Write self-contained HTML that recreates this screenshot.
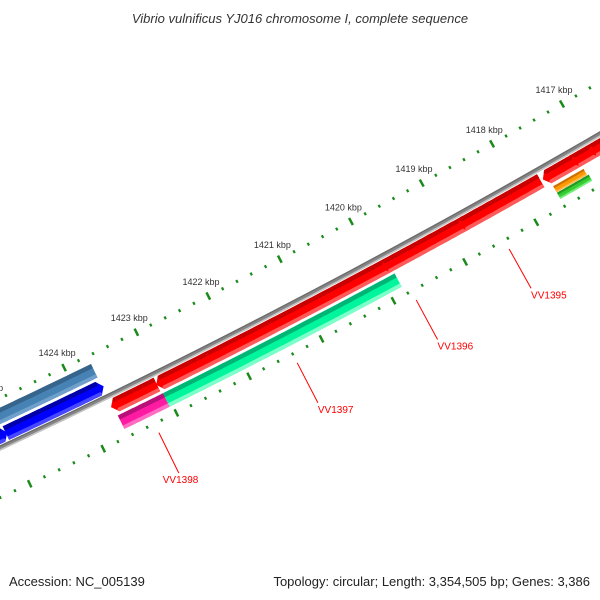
<!DOCTYPE html>
<html><head><meta charset="utf-8">
<style>
html,body{margin:0;padding:0;background:#fff;}
svg{display:block;}
text{font-family:"Liberation Sans",sans-serif;}
</style></head>
<body>
<svg id="map" width="600" height="600" viewBox="0 0 600 600" xmlns="http://www.w3.org/2000/svg">
<text x="300" y="23" text-anchor="middle" font-size="13" font-style="italic" fill="#333">Vibrio vulnificus YJ016 chromosome I, complete sequence</text>
<g id="ticks"></g>
<g id="bb"></g>
<g id="feats"></g>
<g id="labels"></g>
<text x="9" y="586" font-size="13" fill="#222">Accession: NC_005139</text>
<text x="590" y="586" text-anchor="end" font-size="13" fill="#222">Topology: circular; Length: 3,354,505 bp; Genes: 3,386</text>
</svg>
<script>
// data
const tickKbp = [1426,1425,1424,1423,1422,1421,1420,1419,1418,1417,1416];
const tickLabels = ["1426 kbp","1425 kbp","1424 kbp","1423 kbp","1422 kbp","1421 kbp","1420 kbp","1419 kbp","1418 kbp","1417 kbp","1416 kbp"];
const featStart = [1427.0, 1426.2, 1425.0, 1423.62, 1423.00, 1419.87, 1418.79, 1417.60, 1417.19, 1416.94, 1423.66, 1423.04, 1417.60, 1417.60];
const featEnd   = [1423.68, 1425.05, 1423.73, 1423.06, 1419.85, 1418.75, 1417.70, 1417.19, 1416.93, 1416.40, 1423.04, 1419.83, 1417.17, 1417.15];
const featLane  = ["steel","blue","blue","red","red","red","red","red","red","red","pink","cyan","orange","green"];
const featArrow = ["none","right","right","left","left","left","left","left","left","left","none","none","none","none"];
const geneNames = ["VV1398","VV1397","VV1396","VV1395"];
const geneKbp = [1423.3, 1421.4, 1419.75, 1418.45];

// geometry (styles, not data)
const CX=-3282, CY=-6554, RB=7733;
function ang(p){return (64.2-(1424-p)*0.6)*Math.PI/180;}
function pt(p,off){const a=ang(p),r=RB+off;return [CX+r*Math.cos(a),CY+r*Math.sin(a)];}
const NS="http://www.w3.org/2000/svg";
const lanes={
 steel:{o:-29,h:15,c:"#4682b4",d:"#36648b",l:"#6f9fcb"},
 blue:{o:-11,h:15,c:"#0000ff",d:"#0000a8",l:"#4848ff"},
 red:{o:11,h:15,c:"#ff0000",d:"#c80000",l:"#ff5a5a"},
 pink:{o:29,h:15,c:"#ff1aa3",d:"#b80f78",l:"#ff6cc4"},
 cyan:{o:29,h:15,c:"#00f59c",d:"#00b575",l:"#7dffc9"},
 orange:{o:25.5,h:7,c:"#ff9900",d:"#cc7000",l:"#ffb84d"},
 green:{o:33,h:7,c:"#33cc33",d:"#229922",l:"#77ee77"}
};
function arcPts(p1,p2,off){const n=40,res=[];for(let i=0;i<=n;i++){res.push(pt(p1+(p2-p1)*i/n,off));}return res;}
function poly(pts){return pts.map(q=>q[0].toFixed(1)+","+q[1].toFixed(1)).join(" ");}

const tg=document.getElementById("ticks");
// ticks every 0.2 kbp on both rings
for(let k=0;k<tickKbp.length-1;k++){
  for(let m=0;m<5;m++){
    const p=tickKbp[k]-m*0.2;
    const major=(m===0);
    [[-45],[45]].forEach(function(o){
      const len=major?8:3;
      const a=pt(p,o[0]-len/2),b=pt(p,o[0]+len/2);
      const ln=document.createElementNS(NS,"line");
      
      
      ln.setAttribute("x1",a[0]);ln.setAttribute("y1",a[1]);ln.setAttribute("x2",b[0]);ln.setAttribute("y2",b[1]);
      ln.setAttribute("stroke","#1a8a1a");ln.setAttribute("stroke-width",major?2.5:2.2);
      tg.appendChild(ln);
    });
  }
}
tickKbp.forEach(function(p,i){
  const q=pt(p,-61);
  const t=document.createElementNS(NS,"text");
  
  
  t.setAttribute("x",q[0]);t.setAttribute("y",q[1]+3);t.setAttribute("text-anchor","middle");
  t.setAttribute("font-size","9");t.setAttribute("fill","#333");
  t.textContent=tickLabels[i];
  tg.appendChild(t);
});

// backbone
const bg=document.getElementById("bb");
[[0,5,"#858585"],[1.8,1.6,"#c4c4c4"],[-1.8,1.2,"#6a6a6a"]].forEach(function(s){
  const pl=document.createElementNS(NS,"polyline");
  
  
  pl.setAttribute("points",poly(arcPts(1427.5,1415.5,s[0])));
  pl.setAttribute("fill","none");pl.setAttribute("stroke",s[2]);pl.setAttribute("stroke-width",s[1]);
  bg.appendChild(pl);
});

// features
const fg=document.getElementById("feats");
function band(p1,p2,r0,r1,arrow,tipLen,mid){
  // polygon between radii r0<r1 from p1 to p2 (p1>p2), with optional arrow tip
  let outer=arcPts(p1,p2,r1), inner=arcPts(p2,p1,r0);
  let pts=[];
  if(arrow==="left"){ pts.push(pt(p1+tipLen*( (mid-r0)/(r1-r0)<0.5? (mid-r0)/((mid-r0)||1):1),mid)); }
  pts=pts.concat(outer);
  if(arrow==="right"){ pts.push(pt(p2-tipLen,mid)); }
  pts=pts.concat(inner);
  return pts;
}
function featPoly(p1,p2,r0,r1,arrow,mid,tip){
  const s=[];
  const n=40;
  // top edge (r0) from p1 to p2, bottom (r1) back
  for(let i=0;i<=n;i++){
    const p=p1+(p2-p1)*i/n;
    let r=r0;
    s.push(pt(p,r));
  }
  if(arrow==="right"){
    // clip tip: interpolate towards tip point
    const tipFrac=(r0+r1)/2;
    s.push(pt(p2-tip*Math.min(1,Math.abs(r0-mid)/((r1-r0)/2||1)*0+ (1-Math.abs(((r0+r1)/2)-mid)/(7.5)) ),tipFrac));
  }
  for(let i=n;i>=0;i--){
    const p=p1+(p2-p1)*i/n;
    s.push(pt(p,r1));
  }
  if(arrow==="left"){
    s.push(pt(p1+tip*(1-Math.abs(((r0+r1)/2)-mid)/7.5),(r0+r1)/2));
  }
  return s;
}
featStart.forEach(function(p1,i){
  const L=lanes[featLane[i]], p2=featEnd[i], arrow=featArrow[i];
  const top=L.o-L.h/2, bot=L.o+L.h/2, mid=L.o;
  const tip=0.07;
  const g=document.createElementNS(NS,"g");
  
  
  const parts=[[top,bot,L.c],[top,top+L.h*0.3,L.d],[bot-L.h*0.25,bot,L.l]];
  parts.forEach(function(b){
    const pg=document.createElementNS(NS,"polygon");
    
    
    pg.setAttribute("points",poly(featPoly(p1,p2,b[0],b[1],arrow,mid,tip)));
    pg.setAttribute("fill",b[2]);
    g.appendChild(pg);
  });
  fg.appendChild(g);
});

// gene labels
const lg=document.getElementById("labels");
geneNames.forEach(function(nm,i){
  const a=pt(geneKbp[i],55), b=pt(geneKbp[i],100);
  const ln=document.createElementNS(NS,"line");
  
  
  ln.setAttribute("x1",a[0]);ln.setAttribute("y1",a[1]);ln.setAttribute("x2",b[0]);ln.setAttribute("y2",b[1]);
  ln.setAttribute("stroke","#ff0000");ln.setAttribute("stroke-width",1);
  lg.appendChild(ln);
  const t=document.createElementNS(NS,"text");
  
  
  t.setAttribute("x",b[0]-(i===0?16:0));t.setAttribute("y",b[1]+10);
  t.setAttribute("font-size","10");t.setAttribute("fill","#ff0000");
  t.textContent=nm;
  lg.appendChild(t);
});
</script>
</body></html>
